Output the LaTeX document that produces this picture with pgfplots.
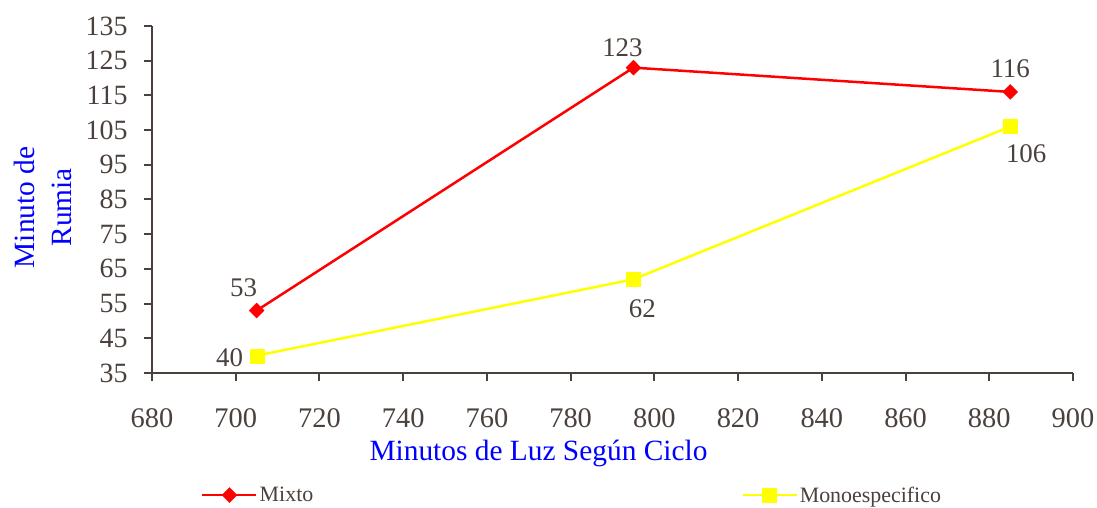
\documentclass[border=0pt]{standalone}
\usepackage{pgfplots}
\pgfplotsset{compat=1.18}
\usepackage{fontspec}
\setmainfont{Liberation Serif}
\definecolor{axisgray}{RGB}{74,64,60}
\definecolor{mixred}{RGB}{255,0,0}
\definecolor{monoyellow}{RGB}{255,255,0}
\begin{document}
\begin{tikzpicture}
\begin{axis}[
  scale only axis,
  width=921bp, height=347bp,
  xmin=680, xmax=900, ymin=35, ymax=135,
  xtick={680,700,...,900},
  ytick={35,45,...,135},
  axis lines*=left,
  axis line style={line width=2bp, color=axisgray},
  tick style={line width=2bp, color=axisgray},
  tick align=outside,
  major tick length=8bp,
  /pgf/number format/assume math mode=true,
  ticklabel style={font=\fontsize{28}{30}\selectfont, text=axisgray},
  xticklabel style={anchor=base, yshift=-46bp, font=\fontsize{28.5}{30}\selectfont},
  yticklabel style={anchor=east, xshift=-13bp},
  every axis x label/.style={at={(rel axis cs:0.5,0)}, anchor=base, xshift=-74bp, yshift=-87bp},
  every axis y label/.style={at={(rel axis cs:-0.1186,0.4775)}, rotate=90, anchor=center, align=center},
  label style={font=\fontsize{29.5}{37}\selectfont, text=blue},
  xlabel={Minutos de Luz Según Ciclo},
  ylabel={Minuto de\\Rumia},
  legend columns=2,
  legend cell align=left,
  legend style={draw=none, fill=none, at={(rel axis cs:0.05,-0.352)}, anchor=west,
    font=\fontsize{22}{24}\selectfont, text=axisgray,
    /tikz/every even column/.append style={column sep=426bp}},
  legend image code/.code={%
    \draw[mark repeat=2, mark phase=2] plot coordinates {(0bp,0bp) (27bp,0bp) (54bp,0bp)};},
  clip=false,
]
% Mixto
\addplot[color=mixred, line width=2.5bp, mark=diamond*, mark size=7.5bp,
  mark options={solid, xscale=1.33, line width=0.3bp, fill=mixred}]
  coordinates {(705,53) (795,123) (885,116)};
\addlegendentry{Mixto}
% Monoespecifico
\addplot[color=monoyellow, line width=2.5bp, mark=square*, mark size=7bp,
  mark options={solid, line width=0.3bp, fill=monoyellow}]
  coordinates {(705,40) (795,62) (885,106)};
\addlegendentry{Monoespecifico}

% value labels
\begin{scope}[every node/.style={font=\fontsize{27}{30}\selectfont, text=axisgray, anchor=center}]
\node[xshift=-13bp, yshift=23bp] at (axis cs:705,53) {53};
\node[xshift=-11bp, yshift=20bp] at (axis cs:795,123) {123};
\node[xshift=0bp, yshift=23bp] at (axis cs:885,116) {116};
\node[xshift=-27bp, yshift=-2bp] at (axis cs:705,40) {40};
\node[xshift=9bp, yshift=-29bp] at (axis cs:795,62) {62};
\node[xshift=16bp, yshift=-27bp] at (axis cs:885,106) {106};
\end{scope}
\end{axis}
\pgfresetboundingbox
\path[use as bounding box] ([shift={(-152bp,-135bp)}]current axis.south west) rectangle ([shift={(24bp,26bp)}]current axis.north east);
\end{tikzpicture}
\end{document}
